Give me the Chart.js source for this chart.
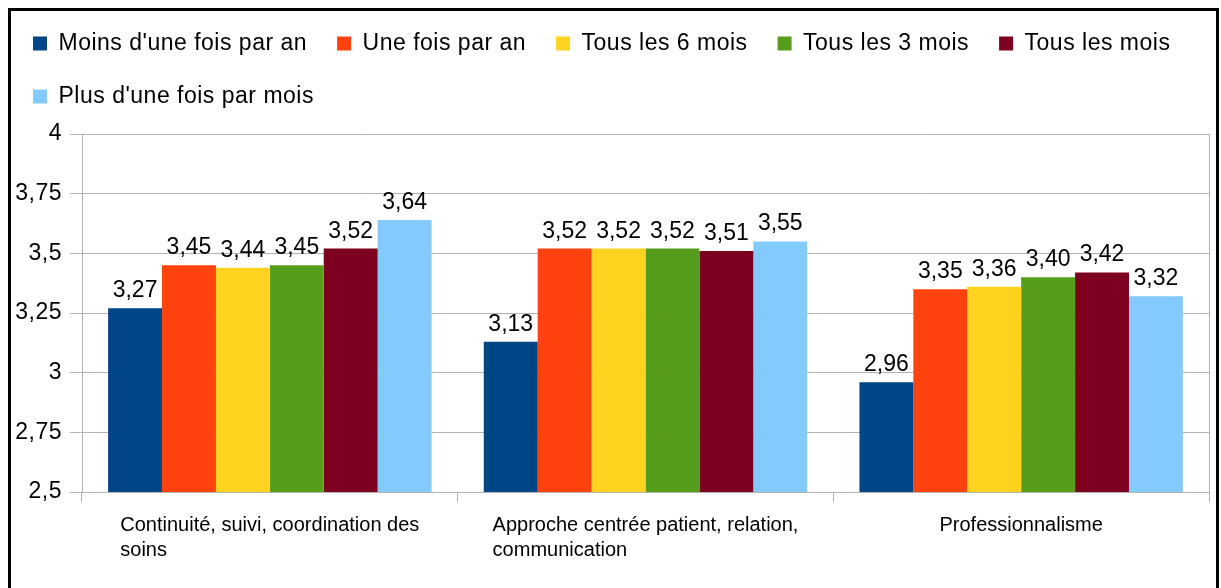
<!DOCTYPE html>
<html>
<head>
<meta charset="utf-8">
<script src="https://cdn.jsdelivr.net/npm/chart.js@4/dist/chart.umd.min.js"></script>
<style>
  html, body { margin: 0; padding: 0; background: #fff; overflow: hidden; }
  #wrap { position: relative; width: 1221px; height: 588px; }
  #frame { position: absolute; left: 8px; top: 8px; width: 1211px; height: 700px;
           box-sizing: border-box; border: 3px solid #000; pointer-events: none; }
</style>
</head>
<body>
<div id="wrap">
  <canvas id="chart"></canvas>
  <div id="frame"></div>
</div>
<script>
// categories (one array of lines per group)
const categories = [
  ['Continuité, suivi, coordination des', 'soins'],
  ['Approche centrée patient, relation,', 'communication'],
  ['Professionnalisme']
];
const seriesNames = ['Moins d\'une fois par an', 'Une fois par an', 'Tous les 6 mois',
                     'Tous les 3 mois', 'Tous les mois', 'Plus d\'une fois par mois'];
const moinsUneFoisParAn = [3.27, 3.13, 2.96];
const uneFoisParAn      = [3.45, 3.52, 3.35];
const tousLes6Mois      = [3.44, 3.52, 3.36];
const tousLes3Mois      = [3.45, 3.52, 3.40];
const tousLesMois       = [3.52, 3.51, 3.42];
const plusUneFoisParMois = [3.64, 3.55, 3.32];
const colors = ['#004586', '#ff420e', '#ffd320', '#579d1c', '#7e0021', '#83caff'];
const yMin = 2.5, yMax = 4, yStep = 0.25;

const FONT = '"Liberation Sans", Arial, sans-serif';
const GRID = '#b3b3b3';
const fr = v => String(v).replace('.', ',');

const allSeries = [moinsUneFoisParAn, uneFoisParAn, tousLes6Mois, tousLes3Mois, tousLesMois, plusUneFoisParMois];

// the original text is slightly more spaced out than Liberation Sans
const spacing = {
  id: 'spacing',
  beforeLayout(chart) { chart.ctx.letterSpacing = '0.5px'; },
  beforeDraw(chart) { chart.ctx.letterSpacing = '0.5px'; }
};

// legend height fixed so the plot starts where the original does
const legendHeight = {
  id: 'legendHeight',
  afterInit(chart) {
    const lg = chart.legend;
    const fit = lg.fit.bind(lg);
    lg.fit = () => { fit(); lg.height = 132; };
  }
};

// values above bars
const barValues = {
  id: 'barValues',
  afterDatasetsDraw(chart) {
    const ctx = chart.ctx;
    ctx.save();
    ctx.letterSpacing = '0px';
    ctx.font = '23px ' + FONT;
    ctx.fillStyle = '#000';
    ctx.textAlign = 'center';
    ctx.textBaseline = 'alphabetic';
    chart.data.datasets.forEach((ds, di) => {
      chart.getDatasetMeta(di).data.forEach((bar, i) => {
        ctx.fillText(ds.data[i].toFixed(2).replace('.', ','), bar.x, bar.y - 11);
      });
    });
    ctx.restore();
  }
};

// category labels: block centred under the group, lines left-aligned
const groupLabels = {
  id: 'groupLabels',
  afterDraw(chart) {
    const ctx = chart.ctx, xs = chart.scales.x;
    ctx.save();
    ctx.letterSpacing = '0px';
    ctx.font = '20px ' + FONT;
    ctx.fillStyle = '#000';
    ctx.textAlign = 'left';
    ctx.textBaseline = 'alphabetic';
    categories.forEach((lines, i) => {
      const w = Math.max(...lines.map(l => ctx.measureText(l).width));
      const left = xs.getPixelForValue(i) - w / 2;
      lines.forEach((l, k) => ctx.fillText(l, left, xs.top + 39 + k * 25));
    });
    ctx.restore();
  }
};

new Chart(document.getElementById('chart'), {
  type: 'bar',
  data: {
    labels: categories.map(c => c.join(' ')),
    datasets: allSeries.map((d, i) => ({
      label: seriesNames[i],
      data: d,
      backgroundColor: colors[i],
      borderWidth: 0,
      barPercentage: 1,
      categoryPercentage: 0.861
    }))
  },
  options: {
    responsive: true,
    maintainAspectRatio: false,
    animation: false,
    layout: { padding: { left: 3, top: 2, right: 0, bottom: 0 } },
    plugins: {
      tooltip: { enabled: false },
      legend: {
        position: 'top',
        align: 'start',
        labels: {
          boxWidth: 14,
          boxHeight: 14,
          padding: 30,
          color: '#000',
          font: { family: FONT, size: 23 }
        }
      }
    },
    scales: {
      x: {
        offset: true,
        grid: { offset: true, drawOnChartArea: false, drawTicks: true, tickLength: 10, color: GRID },
        border: { color: GRID },
        ticks: { display: false },
        afterFit(s) { s.height = 96; }
      },
      y: {
        min: yMin,
        max: yMax,
        grid: { color: GRID, tickLength: 12 },
        border: { color: GRID },
        ticks: {
          stepSize: yStep,
          padding: 8,
          color: '#000',
          font: { family: FONT, size: 23 },
          callback: v => fr(v)
        },
        afterFit(s) { s.width = 79; }
      },
      y2: {
        position: 'right',
        min: yMin,
        max: yMax,
        grid: { drawOnChartArea: false, drawTicks: false },
        border: { color: GRID },
        ticks: { display: false },
        afterFit(s) { s.width = 12; }
      }
    }
  },
  plugins: [spacing, legendHeight, barValues, groupLabels]
});
</script>
</body>
</html>
